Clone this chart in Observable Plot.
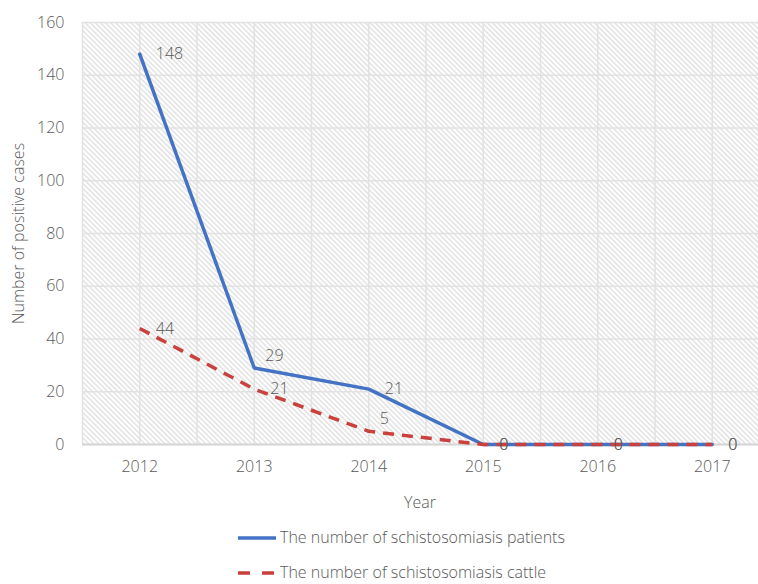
<!DOCTYPE html>
<html>
<head>
<meta charset="utf-8">
<script src="https://cdn.jsdelivr.net/npm/d3@7"></script>
<script src="https://cdn.jsdelivr.net/npm/@observablehq/plot@0.6"></script>
<style>
  html, body { margin: 0; padding: 0; background: #fff; overflow: hidden; }
  body { width: 758px; height: 584px; font-family: "Open Sans", "Segoe UI", sans-serif; font-weight: 300; color: #595959; }
  #chart { width: 770px; }
  #chart svg { display: block; max-width: none !important; }
  .xlabel { width: 676px; margin-left: 82px; text-align: center; height: 36px; line-height: 36px; font-size: 16px; }
  .row { position: relative; height: 35px; line-height: 35px; font-size: 16px; white-space: nowrap; }
  .row svg { position: absolute; left: 238px; top: 16px; }
  .row span { position: absolute; left: 280px; top: 0; }
</style>
</head>
<body>
<div id="chart"></div>
<div class="xlabel">Year</div>
<div id="legend"></div>
<script>
const years = [2012, 2013, 2014, 2015, 2016, 2017];
const patients = [148, 29, 21, 0, 0, 0];
const cattle = [44, 21, 5, 0, 0, 0];
const seriesNames = ["The number of schistosomiasis patients", "The number of schistosomiasis cattle"];
const yTicks = [0, 20, 40, 60, 80, 100, 120, 140, 160];
// labels drawn above-right instead of right of the point
const labelsAbove = [["patients", 2013], ["cattle", 2014]];

const colors = {patients: "#4472C4", cattle: "#C9403C"};
const data = [
  ...years.map((y, i) => ({series: "patients", year: y, value: patients[i]})),
  ...years.map((y, i) => ({series: "cattle", year: y, value: cattle[i]}))
];
const isAbove = d => labelsAbove.some(([s, y]) => s === d.series && y === d.year);

const xDomain = [years[0] - 0.5, years[years.length - 1] + 0.5];
const gridX = d3.range(xDomain[0], xDomain[1] + 0.01, 0.5);

const defs = () => {
  const g = d3.create("svg:defs");
  const p = g.append("pattern")
    .attr("id", "hatch")
    .attr("patternUnits", "userSpaceOnUse")
    .attr("width", 3.6).attr("height", 3.6)
    .attr("patternTransform", "rotate(-45)");
  p.append("rect").attr("width", 3.6).attr("height", 3.6).attr("fill", "#ffffff");
  p.append("line").attr("x1", 0.9).attr("y1", 0).attr("x2", 0.9).attr("y2", 3.6)
    .attr("stroke", "#d6d6d6").attr("stroke-width", 1.1);
  return g.node();
};

const chart = Plot.plot({
  width: 770,
  height: 484,
  marginTop: 22,
  marginLeft: 82,
  marginRight: 1,
  marginBottom: 40,
  style: {fontSize: "16px", fontFamily: "'Open Sans', 'Segoe UI', sans-serif", fontWeight: 300, color: "#595959", background: "transparent", overflow: "visible", maxWidth: "none"},
  x: {domain: xDomain, ticks: years, tickFormat: "d", label: null},
  y: {domain: [0, 160], ticks: yTicks, label: "Number of positive cases"},
  marks: [
    defs,
    Plot.frame({fill: "url(#hatch)", stroke: null}),
    Plot.ruleX(gridX, {stroke: "#e2e2e2", strokeWidth: 1.5}),
    Plot.ruleY(yTicks, {stroke: "#e2e2e2", strokeWidth: 1.5}),
    Plot.ruleY([0], {stroke: "#d6d6d6", strokeWidth: 2}),
    Plot.axisX({ticks: years, tickFormat: "d", tickSize: 0, tickPadding: 16, label: null}),
    Plot.axisY({ticks: yTicks, tickSize: 0, tickPadding: 18, label: "Number of positive cases", labelAnchor: "center", labelArrow: "none", labelOffset: 70}),
    Plot.line(data.filter(d => d.series === "patients"), {x: "year", y: "value", stroke: colors.patients, strokeWidth: 3.5, strokeLinejoin: "miter"}),
    Plot.line(data.filter(d => d.series === "cattle"), {x: "year", y: "value", stroke: colors.cattle, strokeWidth: 3.5, strokeDasharray: "11,8", strokeLinecap: "butt"}),
    Plot.text(data.filter(d => !isAbove(d)), {x: "year", y: "value", text: d => String(d.value), textAnchor: "start", dx: 16, fill: "#595959"}),
    Plot.text(data.filter(isAbove), {x: "year", y: "value", text: d => String(d.value), textAnchor: "start", dx: 11, dy: -12, fill: "#595959"})
  ]
});
document.getElementById("chart").appendChild(chart);

const legend = document.getElementById("legend");
[["patients", null], ["cattle", "12,12"]].forEach(([key, dash], i) => {
  const row = document.createElement("div");
  row.className = "row";
  row.innerHTML = `<svg width="40" height="4"><line x1="0" y1="2" x2="38" y2="2" stroke="${colors[key]}" stroke-width="3.5" ${dash ? `stroke-dasharray="${dash}"` : ""}/></svg><span>${seriesNames[i]}</span>`;
  legend.appendChild(row);
});
</script>
</body>
</html>
